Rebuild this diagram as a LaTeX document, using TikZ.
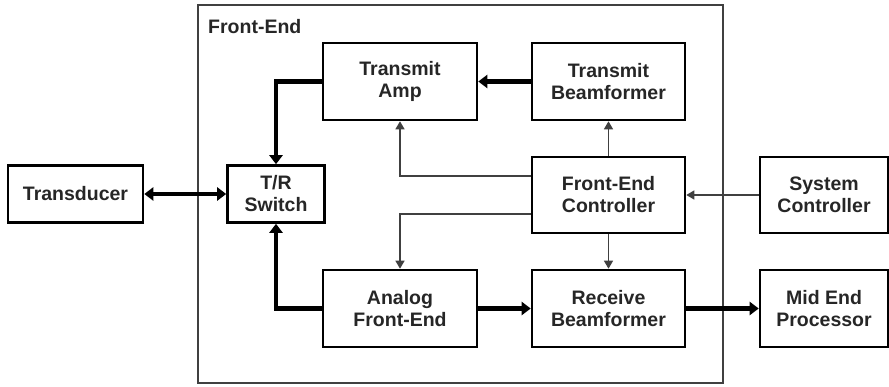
\documentclass[tikz,border=0pt]{standalone}
\usepackage{fontspec}
\setmainfont{Liberation Sans}
\usetikzlibrary{arrows.meta}

\tikzset{
    blk/.style={draw=black, line width=2.6pt, fill=white, align=center,
        text=black!85, font=\fontsize{19.5}{22}\selectfont\bfseries,
        inner sep=0pt},
    fat/.style={line width=4.6pt, -{Triangle[length=9pt,width=13pt]}},
    fatboth/.style={line width=4.6pt, {Triangle[length=9pt,width=13pt]}-{Triangle[length=9pt,width=13pt]}},
    ctl/.style={line width=1.4pt, draw=black!75, -{Triangle[length=8pt,width=9pt]}}
}

\begin{document}
\begin{tikzpicture}[x=1pt, y=-1pt]
    \useasboundingbox (0,0) rectangle (889,387);

    % front-end frame
    \draw[line width=1.5pt, black!75] (198,5) rectangle (723,383);
    \node[anchor=west, text=black!85, font=\fontsize{19.5}{22}\selectfont\bfseries, inner sep=0pt] (felabel) at (208,27) {Front-End};

    % blocks
    \foreach \name/\x/\y/\w/\h/\txt in {
        trans/75.5/194/135/57/{Transducer},
        trsw/276/194/97/57/{T/R\\Switch},
        tamp/400/81.5/154/77/{Transmit\\Amp},
        tbf/608.5/81.5/153/77/{Transmit\\Beamformer},
        fec/608.5/195/153/76/{Front-End\\Controller},
        sysc/824/195/128/76/{System\\Controller},
        afe/400/308.5/154/77/{Analog\\Front-End},
        rbf/608.5/308.5/153/77/{Receive\\Beamformer},
        mep/824/308.5/128/77/{Mid End\\Processor}} {
        \node[blk, minimum width=\w pt, minimum height=\h pt] (\name) at (\x,\y) {\txt};
    }

    % data path
    \draw[fatboth] (trans.east) -- (trsw.west);
    \draw[fat] (tamp.west) -| (trsw.north);
    \draw[fat] (afe.west) -| (trsw.south);
    \draw[fat] (tbf.west) -- (tamp.east);
    \draw[fat] (afe.east) -- (rbf.west);
    \draw[fat] (rbf.east) -- (mep.west);

    % control lines
    \draw[ctl] (sysc.west) -- (fec.east);
    \draw[ctl] (fec.north) -- (tbf.south);
    \draw[ctl] (fec.south) -- (rbf.north);
    \draw[ctl] ([yshift=19pt]fec.west) -| (tamp.south);
    \draw[ctl] ([yshift=-19pt]fec.west) -| (afe.north);
\end{tikzpicture}
\end{document}
